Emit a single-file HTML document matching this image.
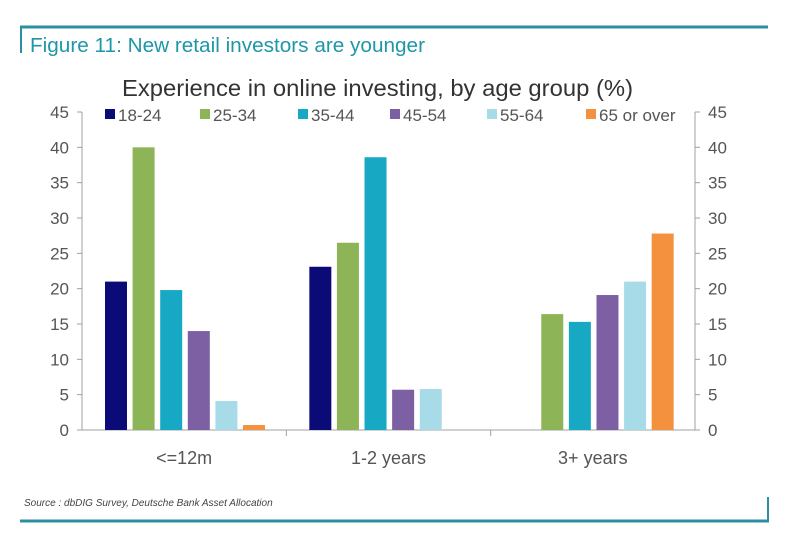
<!DOCTYPE html>
<html><head><meta charset="utf-8"><style>
body{margin:0;background:#fff;width:796px;height:541px;overflow:hidden;font-family:"Liberation Sans",sans-serif}
</style></head><body>
<svg width="796" height="541" xmlns="http://www.w3.org/2000/svg">
<line x1="20" y1="27" x2="768" y2="27" stroke="#2a8fa0" stroke-width="3"/>
<line x1="21" y1="27" x2="21" y2="53" stroke="#2a8fa0" stroke-width="2"/>
<text x="30" y="52" font-size="20" fill="#1e97a8" textLength="395" lengthAdjust="spacingAndGlyphs">Figure 11: New retail investors are younger</text>
<text x="122" y="96" font-size="23" fill="#333" textLength="511" lengthAdjust="spacingAndGlyphs">Experience in online investing, by age group (%)</text>
<g id="legend"></g>
<g id="axes"></g>
<g id="bars"></g>
<text x="24" y="506" font-size="10" font-style="italic" fill="#444">Source : dbDIG Survey, Deutsche Bank Asset Allocation</text>
<line x1="20" y1="521" x2="769" y2="521" stroke="#2a8fa0" stroke-width="3"/>
<line x1="768" y1="497" x2="768" y2="521" stroke="#2a8fa0" stroke-width="2"/>
</svg>
<script>
const categories=["<=12m","1-2 years","3+ years"];
const seriesNames=["18-24","25-34","35-44","45-54","55-64","65 or over"];
const s1824=[21,23.1,0];
const s2534=[40,26.5,16.4];
const s3544=[19.8,38.6,15.3];
const s4554=[14,5.7,19.1];
const s5564=[4.1,5.8,21];
const s65=[0.7,0,27.8];
const yTicks=[0,5,10,15,20,25,30,35,40,45];
const NS="http://www.w3.org/2000/svg";
const series=[s1824,s2534,s3544,s4554,s5564,s65];
const colors=["#0b0b78","#8db558","#17a8c4","#7d5fa3","#a8dbe8","#f4913f"];
const L=82,R=695,Y0=430,Y45=112;
const y=v=>Y0-(v/45)*(Y0-Y45);
const gw=(R-L)/categories.length;
function mk(t,a,p){const e=document.createElementNS(NS,t);for(const k in a)e.setAttribute(k,a[k]);p.appendChild(e);return e;}
const axes=document.getElementById('axes'),bars=document.getElementById('bars'),leg=document.getElementById('legend');
let e;
e=mk('line',{x1:L,y1:Y45,x2:L,y2:Y0,stroke:'#a0a0a0'},axes);


e=mk('line',{x1:R,y1:Y45,x2:R,y2:Y0,stroke:'#a0a0a0'},axes);


e=mk('line',{x1:L,y1:Y0,x2:R,y2:Y0,stroke:'#a0a0a0'},axes);


yTicks.forEach(t=>{
 mk('line',{x1:L-5,y1:y(t),x2:L,y2:y(t),stroke:'#a0a0a0'},axes);
 mk('line',{x1:R,y1:y(t),x2:R+5,y2:y(t),stroke:'#a0a0a0'},axes);
 e=mk('text',{x:L-13,y:y(t)+6,'font-size':17,fill:'#555','text-anchor':'end'},axes);e.textContent=t;
 
 
 e=mk('text',{x:R+13,y:y(t)+6,'font-size':17,fill:'#555'},axes);e.textContent=t;
 
 
});
categories.forEach((c,i)=>{
 if(i>0)mk('line',{x1:L+gw*i,y1:Y0,x2:L+gw*i,y2:Y0+6,stroke:'#a0a0a0'},axes);
 e=mk('text',{x:L+gw*(i+0.5),y:Y0+34,'font-size':18,fill:'#555','text-anchor':'middle'},axes);e.textContent=c;
 
 
 series.forEach((s,j)=>{
  if(s[i]<=0)return;
  const bx=L+gw*i+23+j*27.6;
  e=mk('rect',{x:bx,y:y(s[i]),width:22,height:Y0-y(s[i]),fill:colors[j]},bars);
  
  
 });
});
const lx=[105,200,298,390,487,586];
seriesNames.forEach((n,j)=>{
 e=mk('rect',{x:lx[j],y:109,width:10,height:10,fill:colors[j]},leg);
 
 
 e=mk('text',{x:lx[j]+13,y:121,'font-size':17,fill:'#555'},leg);e.textContent=n;
 
 
});
</script>
</body></html>
